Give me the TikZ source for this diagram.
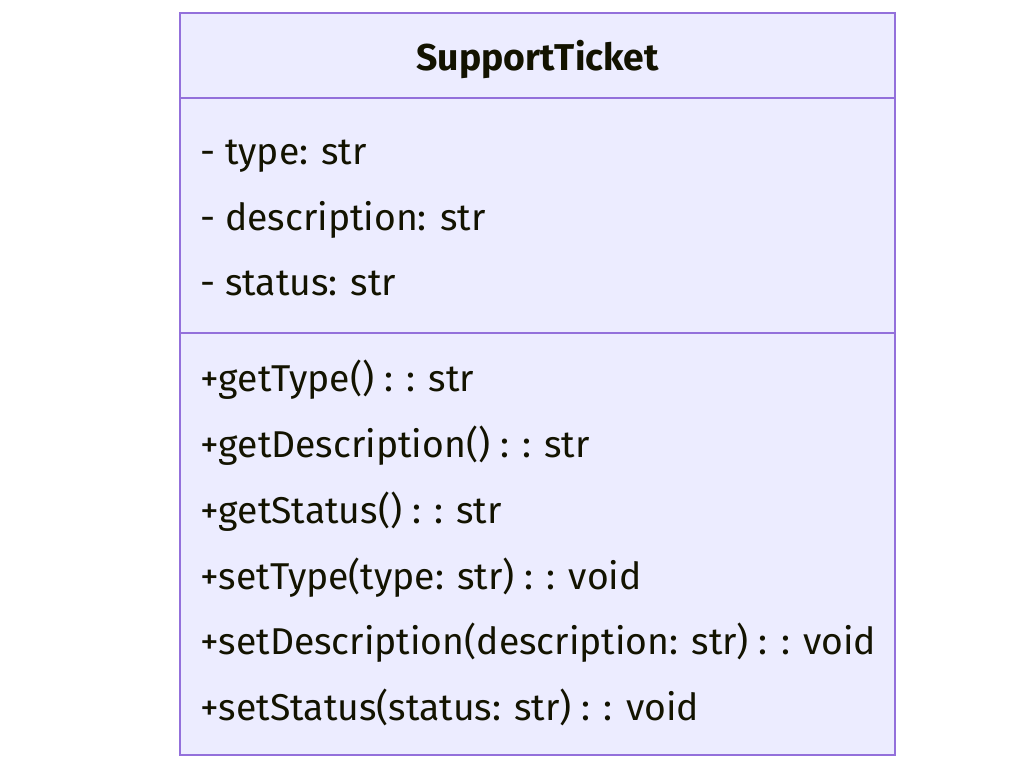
\documentclass[tikz,border=0pt]{standalone}
\usepackage{fontspec}
\setmainfont{Fira Sans}
\usetikzlibrary{positioning,calc}
\definecolor{boxfill}{HTML}{ECECFF}
\definecolor{boxline}{HTML}{9370DB}
\definecolor{txtcolor}{HTML}{131300}

\begin{document}
\begin{tikzpicture}[x=0.75pt,y=-0.75pt]
  \tikzset{
    member/.style={anchor=base west,inner sep=0pt,text=txtcolor,font=\fontsize{28}{32}\selectfont},
    title/.style={anchor=base,inner sep=0pt,text=txtcolor,font=\bfseries\fontsize{28}{32}\selectfont}
  }
  \useasboundingbox (0,0) rectangle (1025,768);
  \coordinate (tl) at (180,13);
  \coordinate (br) at (895,755);
  \draw[boxline,fill=boxfill,line width=1.5pt] (tl) rectangle (br);
  \draw[boxline,line width=1.5pt] (180,98) -- (895,98);
  \draw[boxline,line width=1.5pt] (180,333) -- (895,333);
  \node[title] (name) at (537.5,70) {SupportTicket};
  % attributes
  \node[member] (a1) at (200,164) {- type: str};
  \node[member] (a2) at (200,230) {- description: str};
  \node[member] (a3) at (200,295) {- status: str};
  % methods
  \node[member] (m1) at (200,391) {+getType() : : str};
  \node[member] (m2) at (200,457) {+getDescription() : : str};
  \node[member] (m3) at (200,523) {+getStatus() : : str};
  \node[member] (m4) at (200,589) {+setType(type: str) : : void};
  \node[member] (m5) at (200,654) {+setDescription(description: str) : : void};
  \node[member] (m6) at (200,720) {+setStatus(status: str) : : void};
\end{tikzpicture}
\end{document}
